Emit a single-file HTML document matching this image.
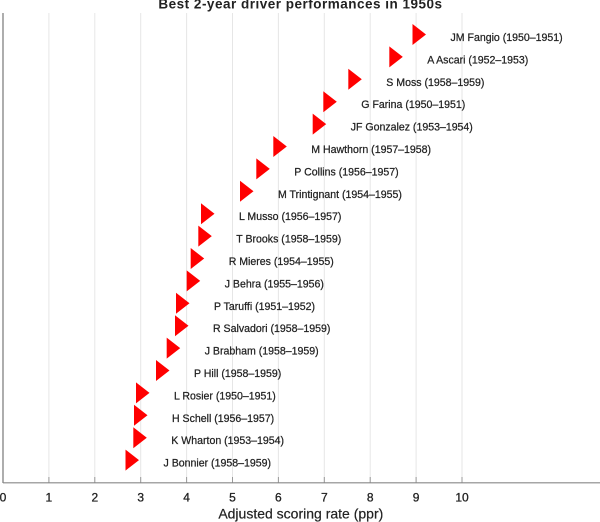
<!DOCTYPE html>
<html>
<head>
<meta charset="utf-8">
<style>
  html, body { margin:0; padding:0; background:#fff; }
  svg { display:block; }
  text { font-family: "Liberation Sans", "DejaVu Sans", sans-serif; fill:#222; }
</style>
</head>
<body>
<svg width="600" height="522" viewBox="0 0 600 522" xmlns="http://www.w3.org/2000/svg">
  <rect x="0" y="0" width="600" height="522" fill="#fff"/>
  <!-- title -->
  <text x="300.5" y="8.5" text-anchor="middle" font-size="13.5" font-weight="bold" letter-spacing="0.5" fill="#111">Best 2-year driver performances in 1950s</text>

  <!-- grid lines -->
  <g stroke="#e6e6e6" stroke-width="1">
    <line x1="48.9" y1="13" x2="48.9" y2="483"/>
    <line x1="94.8" y1="13" x2="94.8" y2="483"/>
    <line x1="140.7" y1="13" x2="140.7" y2="483"/>
    <line x1="186.6" y1="13" x2="186.6" y2="483"/>
    <line x1="232.5" y1="13" x2="232.5" y2="483"/>
    <line x1="278.4" y1="13" x2="278.4" y2="483"/>
    <line x1="324.3" y1="13" x2="324.3" y2="483"/>
    <line x1="370.2" y1="13" x2="370.2" y2="483"/>
    <line x1="416.1" y1="13" x2="416.1" y2="483"/>
    <line x1="462" y1="13" x2="462" y2="483"/>
  </g>
  <!-- ticks -->
  <g stroke="#999" stroke-width="1">
    <line x1="48.9" y1="477" x2="48.9" y2="483"/>
    <line x1="94.8" y1="477" x2="94.8" y2="483"/>
    <line x1="140.7" y1="477" x2="140.7" y2="483"/>
    <line x1="186.6" y1="477" x2="186.6" y2="483"/>
    <line x1="232.5" y1="477" x2="232.5" y2="483"/>
    <line x1="278.4" y1="477" x2="278.4" y2="483"/>
    <line x1="324.3" y1="477" x2="324.3" y2="483"/>
    <line x1="370.2" y1="477" x2="370.2" y2="483"/>
    <line x1="416.1" y1="477" x2="416.1" y2="483"/>
    <line x1="462" y1="477" x2="462" y2="483"/>
  </g>
  <!-- axes -->
  <line x1="3" y1="13" x2="3" y2="483" stroke="#777" stroke-width="1.2"/>
  <line x1="3" y1="482.8" x2="600" y2="482.8" stroke="#888" stroke-width="1.2"/>

  <!-- tick labels -->
  <g font-size="12" text-anchor="middle" stroke="#222" stroke-width="0.3">
    <text x="3" y="501.5">0</text>
    <text x="48.9" y="501.5">1</text>
    <text x="94.8" y="501.5">2</text>
    <text x="140.7" y="501.5">3</text>
    <text x="186.6" y="501.5">4</text>
    <text x="232.5" y="501.5">5</text>
    <text x="278.4" y="501.5">6</text>
    <text x="324.3" y="501.5">7</text>
    <text x="370.2" y="501.5">8</text>
    <text x="416.1" y="501.5">9</text>
    <text x="462" y="501.5">10</text>
  </g>
  <text x="300.8" y="518.5" text-anchor="middle" font-size="14" stroke="#222" stroke-width="0.2">Adjusted scoring rate (ppr)</text>

  <!-- markers -->
  <g fill="#ff0000">
    <polygon points="412.5,24 426,34.5 412.5,45"/>
    <polygon points="389.3,46.4 402.8,56.9 389.3,67.4"/>
    <polygon points="348.3,68.8 361.8,79.3 348.3,89.8"/>
    <polygon points="323.3,91.2 336.8,101.7 323.3,112.2"/>
    <polygon points="312.7,113.6 326.2,124.1 312.7,134.6"/>
    <polygon points="273.3,136 286.8,146.5 273.3,157"/>
    <polygon points="256.3,158.4 269.8,168.9 256.3,179.4"/>
    <polygon points="240,180.8 253.5,191.3 240,201.8"/>
    <polygon points="201,203.2 214.5,213.7 201,224.2"/>
    <polygon points="198.3,225.6 211.8,236.1 198.3,246.6"/>
    <polygon points="190.7,248 204.2,258.5 190.7,269"/>
    <polygon points="186.7,270.4 200.2,280.9 186.7,291.4"/>
    <polygon points="176,292.8 189.5,303.3 176,313.8"/>
    <polygon points="175,315.2 188.5,325.7 175,336.2"/>
    <polygon points="166.7,337.6 180.2,348.1 166.7,358.6"/>
    <polygon points="156,360 169.5,370.5 156,381"/>
    <polygon points="136,382.4 149.5,392.9 136,403.4"/>
    <polygon points="134,404.8 147.5,415.3 134,425.8"/>
    <polygon points="133.3,427.2 146.8,437.7 133.3,448.2"/>
    <polygon points="125.5,449.6 139,460.1 125.5,470.6"/>
  </g>

  <!-- labels -->
  <g font-size="11.5" stroke="#222" stroke-width="0.25">
    <text transform="translate(450.5,41) scale(0.92,1)">JM Fangio (1950–1951)</text>
    <text transform="translate(427.3,63.4) scale(0.92,1)">A Ascari (1952–1953)</text>
    <text transform="translate(386.3,85.8) scale(0.92,1)">S Moss (1958–1959)</text>
    <text transform="translate(361.3,108.2) scale(0.92,1)">G Farina (1950–1951)</text>
    <text transform="translate(350.7,130.6) scale(0.92,1)">JF Gonzalez (1953–1954)</text>
    <text transform="translate(311.3,153) scale(0.92,1)">M Hawthorn (1957–1958)</text>
    <text transform="translate(294.3,175.4) scale(0.92,1)">P Collins (1956–1957)</text>
    <text transform="translate(278,197.8) scale(0.92,1)">M Trintignant (1954–1955)</text>
    <text transform="translate(239,220.2) scale(0.92,1)">L Musso (1956–1957)</text>
    <text transform="translate(236.3,242.6) scale(0.92,1)">T Brooks (1958–1959)</text>
    <text transform="translate(228.7,265) scale(0.92,1)">R Mieres (1954–1955)</text>
    <text transform="translate(224.7,287.4) scale(0.92,1)">J Behra (1955–1956)</text>
    <text transform="translate(214,309.8) scale(0.92,1)">P Taruffi (1951–1952)</text>
    <text transform="translate(213,332.2) scale(0.92,1)">R Salvadori (1958–1959)</text>
    <text transform="translate(204.7,354.6) scale(0.92,1)">J Brabham (1958–1959)</text>
    <text transform="translate(194,377) scale(0.92,1)">P Hill (1958–1959)</text>
    <text transform="translate(174,399.4) scale(0.92,1)">L Rosier (1950–1951)</text>
    <text transform="translate(172,421.8) scale(0.92,1)">H Schell (1956–1957)</text>
    <text transform="translate(171.3,444.2) scale(0.92,1)">K Wharton (1953–1954)</text>
    <text transform="translate(163.5,466.6) scale(0.92,1)">J Bonnier (1958–1959)</text>
  </g>
</svg>
</body>
</html>
